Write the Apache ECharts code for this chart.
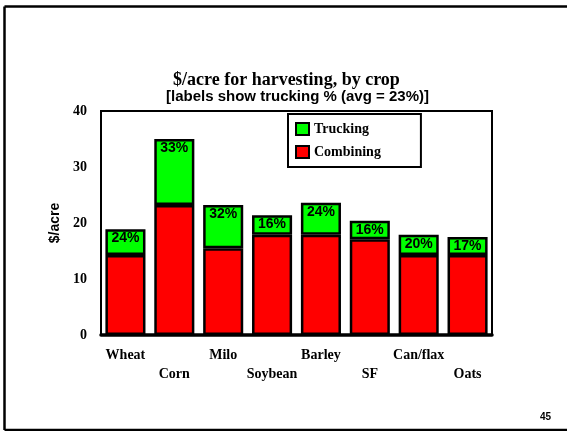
<!DOCTYPE html>
<html>
<head>
<meta charset="utf-8">
<script src="https://cdn.jsdelivr.net/npm/echarts@6/dist/echarts.min.js"></script>
<style>html,body{margin:0;padding:0;background:#fff;}#c{width:567px;height:431px;}</style>
</head>
<body>
<div id="c"></div>
<script>
const categories = ['Wheat','Corn','Milo','Soybean','Barley','SF','Can/flax','Oats'];
const combining = [14.3, 23.2, 15.5, 17.9, 17.9, 17.1, 14.3, 14.3];
const trucking = [4.6, 11.8, 7.7, 3.5, 5.7, 3.3, 3.6, 3.2];
const truckingPct = ['24%','33%','32%','16%','24%','16%','20%','17%'];
const yTicks = [0, 10, 20, 30, 40];

const chart = echarts.init(document.getElementById('c'), null, {renderer:'canvas'});
const serif = '"Liberation Serif", "Times New Roman", serif';
const sans = '"Liberation Sans", Arial, sans-serif';
chart.setOption({
  backgroundColor: '#fff',
  animation: false,
  title: [
    {text: '$/acre for harvesting, by crop', left: 168, top: 66,
     textStyle: {fontFamily: serif, fontWeight: 'bold', fontSize: 18, color: '#000'}},
    {text: '[labels show trucking % (avg = 23%)]', left: 161, top: 84,
     textStyle: {fontFamily: sans, fontWeight: 'bold', fontSize: 15, color: '#000'}},
    {text: '45', left: 535, top: 407,
     textStyle: {fontFamily: sans, fontWeight: 'bold', fontSize: 10, color: '#000'}}
  ],
  legend: {
    data: ['Trucking','Combining'],
    orient: 'vertical',
    left: 288, top: 114,
    width: 115,
    padding: [8, 40, 8, 7],
    itemGap: 9,
    itemWidth: 13, itemHeight: 12,
    borderColor: '#000', borderWidth: 2,
    icon: 'rect',
    textStyle: {fontFamily: serif, fontWeight: 'bold', fontSize: 14, color: '#000'}
  },
  grid: {left: 101, right: 75, top: 111, bottom: 96, show: true, borderColor: '#000', borderWidth: 2, containLabel: false},
  xAxis: {
    type: 'category', data: categories,
    axisLine: {lineStyle: {color: '#000', width: 3.5}},
    axisTick: {show: false},
    axisLabel: {
      interval: 0, margin: 11, lineHeight: 19,
      fontFamily: serif, fontWeight: 'bold', fontSize: 14, color: '#000',
      formatter: (v, i) => (i % 2 ? '\n' + v : v)
    }
  },
  yAxis: {
    type: 'value', min: yTicks[0], max: yTicks[yTicks.length-1], interval: 10,
    name: '$/acre', nameLocation: 'middle', nameGap: 31, nameRotate: 90,
    nameTextStyle: {fontFamily: sans, fontWeight: 'bold', fontSize: 14, color: '#000'},
    axisLine: {show: true, lineStyle: {color: '#000', width: 2}},
    axisTick: {show: false},
    splitLine: {show: false},
    axisLabel: {margin: 14, fontFamily: serif, fontWeight: 'bold', fontSize: 14, color: '#000'}
  },
  series: [
    {name: 'Combining', type: 'bar', stack: 't', data: combining, barWidth: '82%',
     itemStyle: {color: '#ff0000', borderColor: '#000', borderWidth: 2.5}},
    {name: 'Trucking', type: 'bar', stack: 't', data: trucking, barWidth: '82%',
     itemStyle: {color: '#00ff00', borderColor: '#000', borderWidth: 2.5},
     label: {show: true, position: 'insideTop', distance: 2,
       formatter: p => truckingPct[p.dataIndex],
       fontFamily: sans, fontWeight: 'bold', fontSize: 14, color: '#000'}}
  ],
  graphic: [
    {type: 'line', shape: {x1: 4.5, y1: 6.5, x2: 567, y2: 6.5}, style: {stroke: '#000', lineWidth: 2.5}},
    {type: 'line', shape: {x1: 4.5, y1: 6.5, x2: 4.5, y2: 430}, style: {stroke: '#000', lineWidth: 2.5}},
    {type: 'line', shape: {x1: 4.5, y1: 430, x2: 567, y2: 430}, style: {stroke: '#000', lineWidth: 2.5}}
  ]
});
</script>
</body>
</html>
